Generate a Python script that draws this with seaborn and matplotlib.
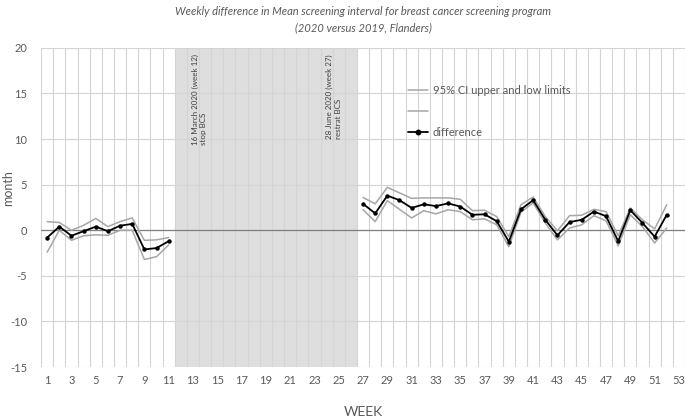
import matplotlib
matplotlib.use("Agg")
import matplotlib.pyplot as plt
import numpy as np
import pandas as pd
import seaborn as sns
from matplotlib.lines import Line2D

# weeks with data (screening stopped weeks 12-26)
WEEKS_A = list(range(1, 12))
WEEKS_B = list(range(27, 53))

DIFF_A = [-0.8, 0.4, -0.6, -0.1, 0.4, -0.1, 0.5, 0.7, -2.1, -1.95, -1.2]
UPPER_A = [0.95, 0.85, 0.0, 0.55, 1.3, 0.4, 0.95, 1.35, -1.1, -1.05, -0.8]
LOWER_A = [-2.4, 0.0, -1.1, -0.6, -0.5, -0.55, 0.0, 0.0, -3.2, -2.9, -1.6]

DIFF_B = [2.9, 1.85, 3.8, 3.3, 2.45, 2.85, 2.65, 2.95, 2.6, 1.7, 1.75, 1.0, -1.25,
          2.3, 3.3, 1.15, -0.55, 0.9, 1.15, 2.05, 1.55, -1.2, 2.2, 0.8, -0.7, 1.7]
UPPER_B = [3.6, 2.9, 4.7, 4.1, 3.5, 3.55, 3.55, 3.55, 3.4, 2.15, 2.2, 1.5, -0.7,
           2.8, 3.65, 1.5, -0.05, 1.6, 1.65, 2.3, 2.05, -0.6, 2.45, 1.15, 0.15, 2.8]
LOWER_B = [2.25, 0.95, 3.25, 2.3, 1.35, 2.15, 1.8, 2.25, 2.05, 1.15, 1.25, 0.6, -1.8,
           2.0, 3.0, 0.8, -1.05, 0.25, 0.6, 1.6, 1.05, -1.7, 1.7, 0.4, -1.4, 0.25]

WEEK_TICKS = list(range(1, 54, 2))
Y_TICKS = [-15, -10, -5, 0, 5, 10, 15, 20]

STOP_WEEK = 12
RESTART_WEEK = 27

TEXT_GREY = "#595959"
CI_GREY = "#a6a6a6"
GRID_GREY = "#d4d4d4"

sns.set_style("white")
plt.rcParams["font.family"] = ["Liberation Sans Narrow", "Lato", "DejaVu Sans"]
plt.rcParams["axes.unicode_minus"] = False

df = pd.DataFrame({
    "week": WEEKS_A + WEEKS_B,
    "diff": DIFF_A + DIFF_B,
    "upper": UPPER_A + UPPER_B,
    "lower": LOWER_A + LOWER_B,
    "segment": [0] * len(WEEKS_A) + [1] * len(WEEKS_B),
})

fig = plt.figure(figsize=(6.85, 4.2), dpi=100)
ax = fig.add_axes([0.06, 0.126, 0.94, 0.76])

# lockdown period shading
ax.axvspan(STOP_WEEK - 0.5, RESTART_WEEK - 0.5, color="#dedede", zorder=0, lw=0)

for col in ["upper", "lower"]:
    sns.lineplot(data=df, x="week", y=col, units="segment", estimator=None,
                 color=CI_GREY, linewidth=1.1, ax=ax, zorder=3, legend=False)
sns.lineplot(data=df, x="week", y="diff", units="segment", estimator=None,
             color="black", linewidth=1.3, marker="o", markersize=3.2,
             markeredgewidth=0, ax=ax, zorder=4, legend=False)

ax.axhline(0, color="#7f7f7f", linewidth=0.9, zorder=2)

ax.set_xlim(0.5, 53.5)
ax.set_ylim(-15, 20)
ax.set_xticks(WEEK_TICKS)
ax.set_xticks(np.arange(0.5, 54, 1), minor=True)
ax.set_yticks(Y_TICKS)
ax.tick_params(axis="both", which="both", length=0, labelsize=8, colors=TEXT_GREY)
ax.tick_params(axis="x", pad=6)
ax.tick_params(axis="y", pad=10)
for s in ax.spines.values():
    s.set_visible(False)

ax.set_xlabel("WEEK", fontsize=10, color=TEXT_GREY, labelpad=14)
ax.set_ylabel("month", fontsize=9, color=TEXT_GREY)
ax.yaxis.set_label_coords(-0.042, 0.56)

ax.text(13.5, 9.4, "16 March 2020 (week 12)\nstop BCS", rotation=90,
        ha="center", va="bottom", multialignment="left", fontsize=5.8,
        color="#404040", zorder=5)
ax.text(24.6, 10.0, "28 June 2020 (week 27)\nrestrat BCS", rotation=90,
        ha="center", va="bottom", multialignment="left", fontsize=5.8,
        color="#404040", zorder=5)

handles = [
    Line2D([], [], color=CI_GREY, linewidth=1.1),
    Line2D([], [], color=CI_GREY, linewidth=1.1),
    Line2D([], [], color="black", linewidth=1.3, marker="o", markersize=3.2),
]
ax.legend(handles, ["95% CI upper and low limits", " ", "difference"],
          loc="upper left", bbox_to_anchor=(0.555, 0.915), frameon=False,
          fontsize=8, labelcolor=TEXT_GREY, handlelength=1.8,
          handletextpad=0.4, labelspacing=0.9)

fig.text(0.53, 0.985, "Weekly difference in Mean screening interval for breast cancer screening program\n(2020 versus 2019, Flanders)",
         ha="center", va="top", fontsize=8, style="italic", color=TEXT_GREY,
         linespacing=1.5)

# grid: vertical lines between weeks, horizontal at every 5 months
ax.xaxis.grid(False, which="major")
ax.xaxis.grid(True, which="minor", color=GRID_GREY, linewidth=0.8)
ax.yaxis.grid(True, which="major", color=GRID_GREY, linewidth=0.8)
ax.set_axisbelow(True)

fig.savefig("out.png", dpi=100)
